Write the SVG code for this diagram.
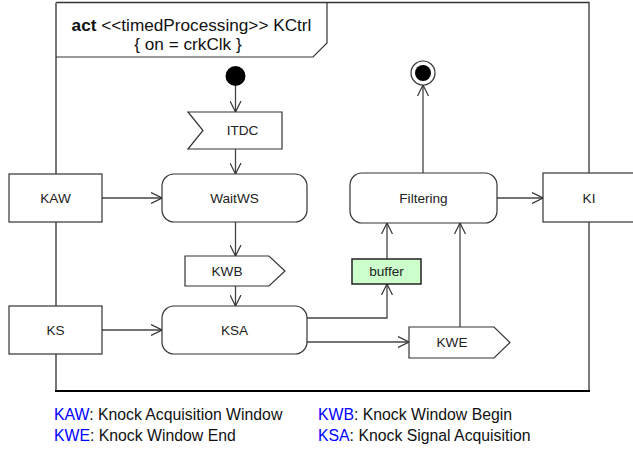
<svg xmlns="http://www.w3.org/2000/svg" width="633" height="453" viewBox="0 0 633 453">
<style>
.bg{fill:#fff}
.nd{fill:#fff;stroke:#333;stroke-width:1.2}
.lb{font-family:"Liberation Sans",Arial,sans-serif;font-size:13.6px;fill:#222;text-anchor:middle}
.cn{fill:none;stroke:#444;stroke-width:1.3}
.lg{font-family:"Liberation Sans",Arial,sans-serif;font-size:15.8px;fill:#111}
.ab{fill:#0000ff}
.hd{font-family:"Liberation Sans",Arial,sans-serif;font-size:17.2px;fill:#111;text-anchor:middle}
</style>
<defs>
<marker id="ah" viewBox="0 0 11 12" refX="11" refY="6" markerWidth="11" markerHeight="12" markerUnits="userSpaceOnUse" orient="auto">
<path d="M0,0.5 L11,6 L0,11.5" fill="none" stroke="#333" stroke-width="1.2"/>
</marker>
</defs>
<rect class="bg" x="0" y="0" width="633" height="453"/>
<g id="frame">
<path d="M56,2.5 L589,2.5 L589,391" fill="none" stroke="#333" stroke-width="1.3"/>
<line x1="56" y1="2.5" x2="56" y2="391" stroke="#777" stroke-width="2"/>
<line x1="55" y1="391" x2="590" y2="391" stroke="#000" stroke-width="2"/>
<path d="M56,57 L313,57 L327,43 L327,2.5" fill="none" stroke="#333" stroke-width="1.2"/>
<text class="hd" x="191.5" y="31"><tspan font-weight="bold">act</tspan> &lt;&lt;timedProcessing&gt;&gt; KCtrl</text>
<text class="hd" x="188" y="50">{ on = crkClk }</text>
</g>
<g id="connectors">
<line class="cn" x1="235.5" y1="86" x2="235.5" y2="112" marker-end="url(#ah)"/>
<line class="cn" x1="235.5" y1="149" x2="235.5" y2="174" marker-end="url(#ah)"/>
<line class="cn" x1="102" y1="198" x2="162" y2="198" marker-end="url(#ah)"/>
<line class="cn" x1="235.5" y1="222" x2="235.5" y2="256" marker-end="url(#ah)"/>
<line class="cn" x1="235.5" y1="286" x2="235.5" y2="306" marker-end="url(#ah)"/>
<line class="cn" x1="102" y1="330" x2="162" y2="330" marker-end="url(#ah)"/>
<polyline class="cn" points="307,318 387,318 387,284" marker-end="url(#ah)"/>
<line class="cn" x1="387" y1="259" x2="387" y2="223" marker-end="url(#ah)"/>
<line class="cn" x1="307" y1="342" x2="409" y2="342" marker-end="url(#ah)"/>
<line class="cn" x1="460" y1="327" x2="460" y2="223" marker-end="url(#ah)"/>
<line class="cn" x1="423" y1="173" x2="423" y2="85" marker-end="url(#ah)"/>
<line class="cn" x1="497" y1="198" x2="543" y2="198" marker-end="url(#ah)"/>
</g>
<g id="initial">
<circle cx="235.5" cy="76" r="10" fill="#000"/>
</g>
<g id="final">
<circle cx="423" cy="73" r="12" fill="#fff" stroke="#333" stroke-width="1.2"/>
<circle cx="423" cy="73" r="8" fill="#000"/>
</g>
<g id="ITDC">
<polygon class="nd" points="188,112 282,112 282,149 188,149 203,130.5"/>
<text class="lb" x="242.5" y="135.3">ITDC</text>
</g>
<g id="WaitWS">
<rect class="nd" x="162" y="174" width="145" height="48" rx="12"/>
<text class="lb" x="234.5" y="202.8">WaitWS</text>
</g>
<g id="KAW">
<rect class="nd" x="9" y="174" width="93" height="48"/>
<text class="lb" x="55.5" y="202.8">KAW</text>
</g>
<g id="KWB">
<polygon class="nd" points="185,256 269,256 285,271 269,286 185,286"/>
<text class="lb" x="227" y="275.8">KWB</text>
</g>
<g id="KSA">
<rect class="nd" x="162" y="306" width="145" height="48" rx="12"/>
<text class="lb" x="234.5" y="334.8">KSA</text>
</g>
<g id="KS">
<rect class="nd" x="9" y="306" width="93" height="48"/>
<text class="lb" x="55.5" y="334.8">KS</text>
</g>
<g id="buffer">
<rect x="352" y="259" width="69" height="25" fill="#ccffcc" stroke="#222" stroke-width="1.5"/>
<text class="lb" x="386.5" y="276">buffer</text>
</g>
<g id="KWE">
<polygon class="nd" points="409,327 494,327 510,342.5 494,358 409,358"/>
<text class="lb" x="452" y="347.3">KWE</text>
</g>
<g id="Filtering">
<rect class="nd" x="350" y="173" width="147" height="50" rx="12"/>
<text class="lb" x="423.5" y="202.8">Filtering</text>
</g>
<g id="KI">
<rect class="nd" x="543" y="173" width="93" height="49"/>
<text class="lb" x="589" y="202.8">KI</text>
</g>
<g id="legend">
<text class="lg" x="54" y="420"><tspan class="ab">KAW</tspan>: Knock Acquisition Window</text>
<text class="lg" x="54" y="441"><tspan class="ab">KWE</tspan>: Knock Window End</text>
<text class="lg" x="318" y="420"><tspan class="ab">KWB</tspan>: Knock Window Begin</text>
<text class="lg" x="318" y="441"><tspan class="ab">KSA</tspan>: Knock Signal Acquisition</text>
</g>
</svg>
